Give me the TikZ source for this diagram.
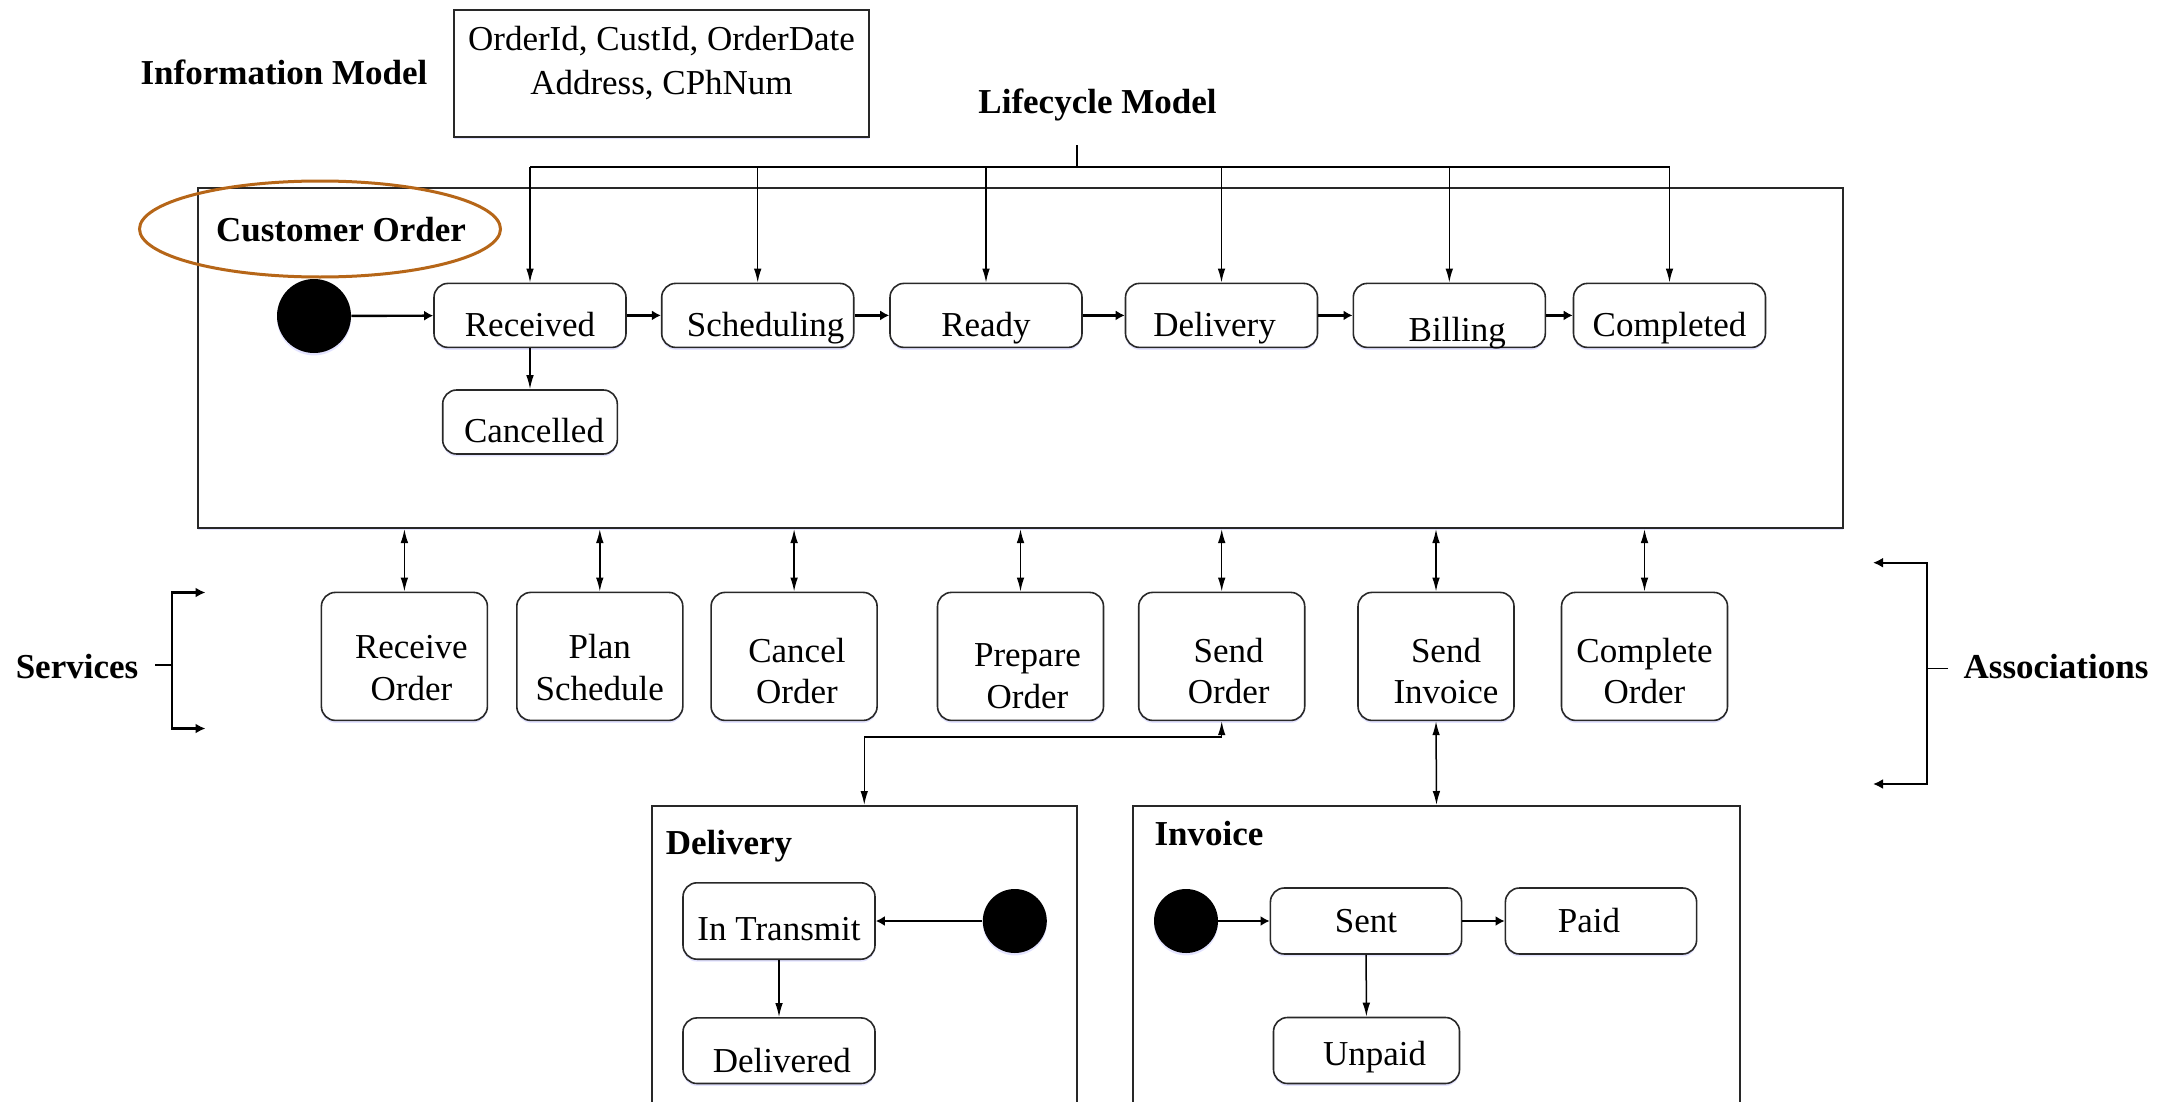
\documentclass[tikz,border=0pt]{standalone}
\usepackage{fontspec}
\setmainfont{Liberation Serif}
\usetikzlibrary{arrows.meta,shadows,shapes.geometric,calc}
\definecolor{ellbrown}{RGB}{182,102,24}
\definecolor{boxline}{RGB}{40,40,40}
\newcommand\fsz{\fontsize{17.5}{20.8}\selectfont}
\newcommand\svclab[4]{\hspace*{#2}\raisebox{#1}[\height][\depth]{\begin{tabular}{@{}c@{}}#3\\#4\end{tabular}}\hspace*{-#2}}
\newcommand\shx[2]{\hspace*{#1}#2\hspace*{-#1}}
\tikzset{
  shd/.style={drop shadow={shadow xshift=0pt,shadow yshift=-1.2pt,fill=blue!20!white,opacity=0.55}},
  stbox/.style={draw=boxline,line width=0.8pt,rounded corners=7pt,fill=white,shd,
    minimum width=96pt,minimum height=32pt,inner sep=1pt,text depth=0pt,text height=#1},
  stbox/.default=21.4pt,
  svc/.style={draw=boxline,line width=0.8pt,rounded corners=7pt,fill=white,shd,
    minimum width=83pt,minimum height=64pt,inner sep=1pt},
  dot/.style={circle,fill=black,inner sep=0pt,shd},
  lbl/.style={font=\fsz\bfseries,inner sep=0pt},
  thinarrow/.style={line width=0.75pt,-{Latex[length=7pt,width=3.8pt]}},
  dblarrow/.style={line width=0.75pt,{Latex[length=7pt,width=3.8pt]}-{Latex[length=7pt,width=3.8pt]}},
  thickarrow/.style={line width=1.2pt,-{Latex[length=4.5pt,width=5pt]}},
  brk/.style={line width=1.1pt,{Latex[length=5pt,width=5pt]}-{Latex[length=5pt,width=5pt]}},
  plainline/.style={line width=0.85pt},
  bigbox/.style={draw=boxline,line width=1pt,inner sep=0pt,fill=white},
}
\begin{document}
\begin{tikzpicture}[x=0.5pt,y=-0.5pt,font=\fsz]
\useasboundingbox (0,0) rectangle (2172,1102);
\clip (0,0) rectangle (2172,1102);

% information model
\node[lbl,anchor=base] (infolab) at (284,85) {Information Model};
\node[bigbox,shd,minimum width=207.5pt,minimum height=63.5pt] (ibox) at (661.5,73.5) {};
\node[anchor=north,inner sep=0pt,align=center,font=\fontsize{17.5}{21.8}\selectfont] (itext) at (661.5,26) {OrderId, CustId, OrderDate\\Address, CPhNum};

% lifecycle model
\node[lbl,anchor=base] (lclab) at (1097.5,113) {Lifecycle Model};

% main customer order box
\node[bigbox,shd,minimum width=822.5pt,minimum height=170.25pt] (cobox) at (1020.5,357.75) {};
\node[draw=ellbrown,line width=1.5pt,ellipse,minimum width=180.5pt,minimum height=48pt,inner sep=0pt] (coell) at (320,229) {};
\node[lbl,anchor=base] (colab) at (341,241) {Customer Order};

% states
\node[dot,minimum size=37pt] (ini) at (314,316) {};
\node[stbox] (rec) at (530,315.4) {Received};
\node[stbox] (sch) at (757.7,315.4) {\shx{4pt}{Scheduling}};
\node[stbox] (rdy) at (986,315.4) {Ready};
\node[stbox] (dlv) at (1221.5,315.4) {\shx{-3.5pt}{Delivery}};
\node[stbox=25.7pt] (bil) at (1449.3,315.4) {\shx{4pt}{Billing}};
\node[stbox] (cmp) at (1669.5,315.4) {Completed};
\node[stbox=20.9pt,minimum width=87.3pt] (can) at (530,422) {\shx{2pt}{Cancelled}};

\draw[thickarrow] (ini) -- (rec);
\draw[thickarrow] (rec) -- (sch);
\draw[thickarrow] (sch) -- (rdy);
\draw[thickarrow] (rdy) -- (dlv);
\draw[thickarrow] (dlv) -- (bil);
\draw[thickarrow] (bil) -- (cmp);
\draw[thinarrow] (rec) -- (can);

% lifecycle bus
\coordinate (lcs) at (1077,145);
\coordinate (lcb) at (1077,167);
\coordinate (busL) at (rec.north |- lcb);
\coordinate (busR) at (cmp.north |- lcb);
\draw[plainline] (lcs) -- (lcb);
\draw[plainline] (busL) -- (busR);
\foreach \s in {rec,sch,rdy,dlv,bil,cmp}
  \draw[thinarrow] (\s.north |- lcb) -- (\s.north);

% services
\node[svc] (s1) at (404.4,656.4) {\svclab{-7.5pt}{3.5pt}{Receive}{Order}};
\node[svc] (s2) at (599.8,656.4) {\svclab{-7.5pt}{0pt}{Plan}{Schedule}};
\node[svc] (s3) at (794.1,656.4) {\svclab{-9.1pt}{1.4pt}{Cancel}{Order}};
\node[svc] (s4) at (1020.5,656.4) {\svclab{-11.3pt}{3.5pt}{Prepare}{Order}};
\node[svc] (s5) at (1221.7,656.4) {\svclab{-9.1pt}{3.5pt}{Send}{Order}};
\node[svc,minimum width=78pt] (s6) at (1436,656.4) {\svclab{-9.1pt}{5pt}{Send}{Invoice}};
\node[svc] (s7) at (1644.5,656.4) {\svclab{-9.1pt}{0pt}{Complete}{Order}};
\foreach \s in {s1,s2,s3,s4,s5,s6,s7}
  \draw[dblarrow] (\s.north |- cobox.south) -- (\s.north);

% services bracket
\node[lbl,anchor=base] (svlab) at (77,678) {Services};
\coordinate (sbs) at (155,665);
\coordinate (sbm) at (172,665);
\coordinate (sbt) at (172,592.5);
\coordinate (sbb) at (172,728.5);
\coordinate (sbtt) at (205.5,592.5);
\coordinate (sbbt) at (205.5,728.5);
\draw[plainline] (sbs) -- (sbm);
\draw[brk] (sbtt) -- (sbt) -- (sbb) -- (sbbt);

% associations bracket
\node[lbl,anchor=base] (aslab) at (2056,678) {Associations};
\coordinate (abs) at (1948,668.5);
\coordinate (abm) at (1927,668.5);
\coordinate (abt) at (1927,562.7);
\coordinate (abb) at (1927,784);
\coordinate (abtt) at (1873,562.7);
\coordinate (abbt) at (1873,784);
\draw[plainline] (abs) -- (abm);
\draw[brk] (abtt) -- (abt) -- (abb) -- (abbt);

% bottom boxes
\node[bigbox,minimum width=212.5pt,minimum height=200pt,anchor=north] (dbox) at (864.25,805) {};
\node[bigbox,minimum width=303.5pt,minimum height=200pt,anchor=north] (ivbox) at (1436.5,805) {};

\coordinate (sbend) at ($(s5.south)+(0,15.6)$);
\draw[dblarrow] (s5.south) -- (sbend) -| (dbox.north);
\draw[dblarrow] (s6.south) -- (ivbox.north);

% delivery
\node[lbl,anchor=base] (dlab) at (729,854) {Delivery};
\node[stbox=19.6pt,minimum height=38.2pt] (intr) at (779,921) {In Transmit};
\node[stbox=21.6pt,minimum height=32.8pt] (dlvd) at (779,1050.7) {\shx{1.4pt}{Delivered}};
\node[dot,minimum size=32pt] (dini) at (1014.8,921) {};
\draw[thickarrow] (dini) -- (intr);
\draw[thinarrow] (intr) -- (dlvd);

% invoice
\node[lbl,anchor=base] (ilab) at (1209,845) {Invoice};
\node[dot,minimum size=32pt] (iini) at (1186,921) {};
\node[stbox=11.8pt,minimum width=95.6pt,minimum height=33pt] (sent) at (1366,921) {Sent};
\node[stbox=11.8pt,minimum width=95.6pt,minimum height=33pt] (paid) at (1601,921) {\shx{-6pt}{Paid}};
\node[stbox=14.5pt,minimum width=93pt,minimum height=33pt] (unp) at (1366.5,1050.5) {\shx{4pt}{Unpaid}};
\draw[thickarrow] (iini) -- (sent);
\draw[thickarrow] (sent) -- (paid);
\draw[thinarrow] (sent) -- (unp);
\end{tikzpicture}
\end{document}
